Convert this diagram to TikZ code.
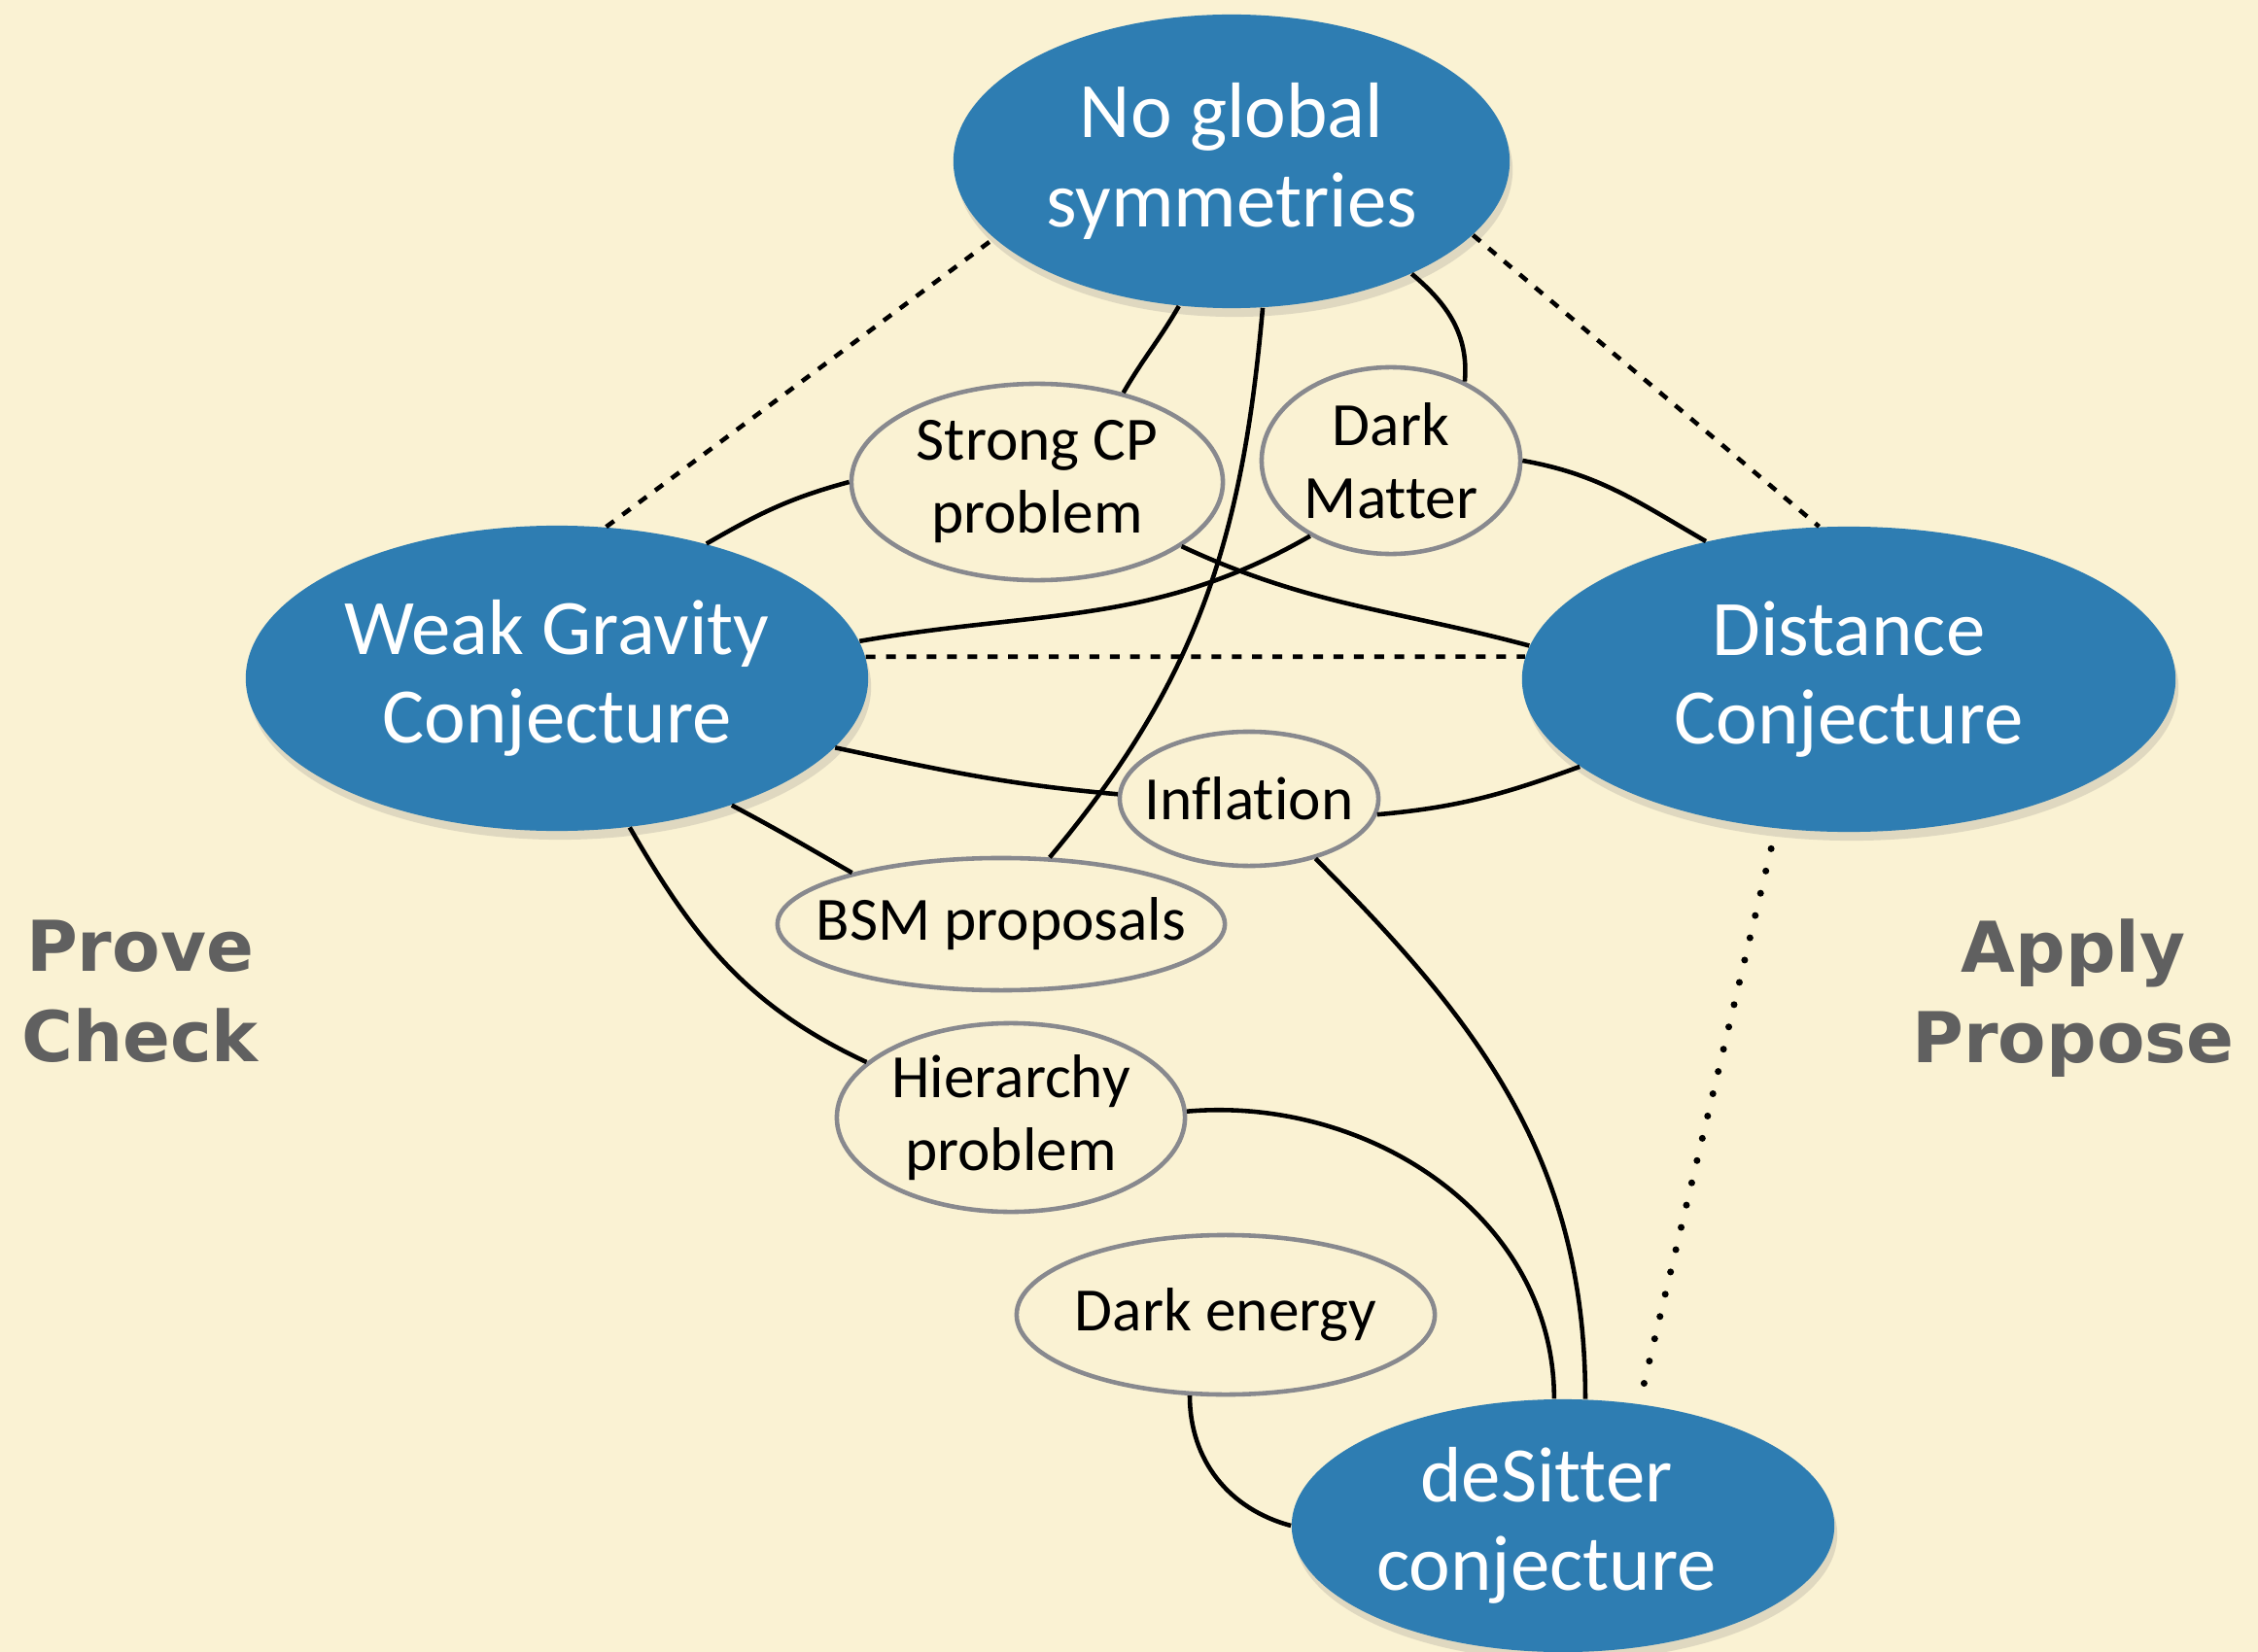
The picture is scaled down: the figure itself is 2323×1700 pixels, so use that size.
\documentclass[tikz,border=0pt]{standalone}
\usepackage{fontspec}
\setmainfont{Carlito}[Ligatures=NoCommon]
\newfontfamily\sidefont{DejaVu Sans}
\usetikzlibrary{shapes,shadows,positioning}
\definecolor{paper}{RGB}{250,242,211}
\definecolor{conjblue}{RGB}{46,125,178}
\definecolor{rimgray}{RGB}{136,137,142}
\definecolor{sidegray}{RGB}{96,96,96}
\tikzset{
  conjtext/.style={text=white,align=center,font=\fontsize{23}{26}\selectfont},
  topictext/.style={text=black,align=center,font=\fontsize{18}{21.3}\selectfont},
  conj/.style={ellipse,fill=conjblue,inner sep=0pt,drop shadow={shadow xshift=0.3mm,shadow yshift=-0.9mm,opacity=0.22},label={[conjtext]center:#1}},
  topic/.style={ellipse,draw=rimgray,line width=1.3pt,fill=paper,inner sep=0pt,label={[topictext]center:#1}},
  link/.style={line width=1.3pt},
  hint/.style={line width=1.3pt,dash pattern=on 2.85pt off 3.1pt},
  dotline/.style={line width=2pt,line cap=round,dash pattern=on 0pt off 6.7pt},
  sidetext/.style={text=sidegray,align=center,font=\sidefont\bfseries\fontsize{20.5}{26.5}\selectfont}
}
\begin{document}
\begin{tikzpicture}[x=0.01cm,y=0.01cm]
\path[use as bounding box,fill=paper] (0,0) rectangle (2323,-1700);
\begin{scope}
\clip (0,0) rectangle (2323,-1700);
\node[conj={No global\\symmetries},minimum width=5.72cm,minimum height=3.02cm] (ngs) at (1267,-166) {};
\node[conj={Weak Gravity\\Conjecture},minimum width=6.4cm,minimum height=3.14cm] (wgc) at (573,-698) {};
\node[conj={Distance\\Conjecture},minimum width=6.72cm,minimum height=3.14cm] (dc) at (1902,-699) {};
\node[ellipse,fill=conjblue,inner sep=0pt,drop shadow={shadow xshift=0.3mm,shadow yshift=-0.9mm,opacity=0.22},label={[conjtext,xshift=-0.17cm]center:deSitter\\conjecture},minimum width=5.58cm,minimum height=2.6cm] (ds) at (1608,-1570) {};
\end{scope}

\node[topic={Strong CP\\problem},minimum width=3.82cm,minimum height=2.02cm] (scp) at (1067,-496) {};
\node[topic={Dark\\Matter},minimum width=2.66cm,minimum height=1.92cm] (dm) at (1431,-474) {};
\node[topic={Inflation},minimum width=2.66cm,minimum height=1.38cm] (infl) at (1285,-822) {};
\node[topic={BSM proposals},minimum width=4.6cm,minimum height=1.36cm] (bsm) at (1030,-951) {};
\node[topic={Hierarchy\\problem},minimum width=3.58cm,minimum height=1.94cm] (hier) at (1040,-1150) {};
\node[topic={Dark energy},minimum width=4.3cm,minimum height=1.64cm] (de) at (1261,-1353) {};

\node[sidetext] (prove) at (144,-1020) {Prove\\Check};
\node[sidetext] (apply) at (2133,-1027) {Apply\\Propose};

\draw[hint] (wgc.72) -- (ngs.198);
\draw[hint] (ngs.343) -- (dc.101);
\draw[hint] (wgc.4) -- (dc.176);
\draw[dotline,shorten <=6pt] (dc.244) -- (ds.58);

\draw[link] (ngs.250) to[out=240,in=60] (scp.46);
\draw[link] (ngs.282) to[out=265,in=50] (bsm.54);
\draw[link] (ngs.328) to[out=-40,in=85] (dm.47);
\draw[link] (wgc.42) to[out=30,in=195] (scp.180);
\draw[link] (wgc.7) to[out=10,in=210] (dm.223);
\draw[link] (scp.336) to[out=-25,in=165] (dc.174);
\draw[link] (dm.0) to[out=-10,in=150] (dc.136);
\draw[link] (wgc.346) to[out=-12,in=175] (infl.178);
\draw[link] (infl.353) to[out=5,in=200] (dc.198);
\draw[link] (wgc.324) to[out=-28,in=150] (bsm.161);
\draw[link] (wgc.296) to[out=-60,in=155] (hier.159);
\draw[link] (infl.318) to[out=-45,in=90] (ds.80);
\draw[link] (hier.2) to[out=5,in=90] (ds.94);
\draw[link] (de.246) to[out=-90,in=165] (ds.180);
\end{tikzpicture}
\end{document}
